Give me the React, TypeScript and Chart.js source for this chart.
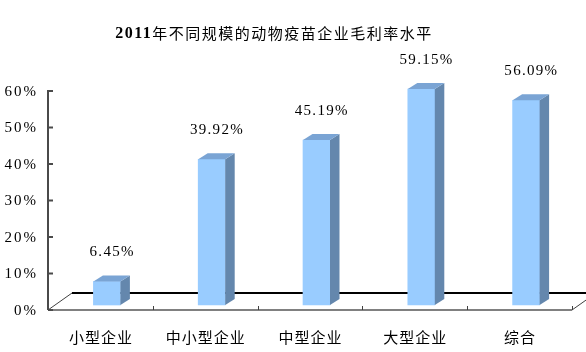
import React, { useEffect, useRef } from "react";
import { Chart, registerables } from "chart.js";

Chart.register(...registerables);

const titleYear = "2011";
const titleRest = "年不同规模的动物疫苗企业毛利率水平";
const categories = ["小型企业", "中小型企业", "中型企业", "大型企业", "综合"];
const margins = [6.45, 39.92, 45.19, 59.15, 56.09];
const yTicks = [0, 10, 20, 30, 40, 50, 60];

const OX = 6.5; // bar depth shift inside the floor
const OY = -5;
const DX = 9.5; // bar own depth
const DY = 6;
const FX = 24; // floor depth
const FY = -17;

const FRONT = "#99CCFF";
const TOP = "#7AA4D4";
const SIDE = "#6487AD";

const setLS = (ctx: any, v: string) => {
  try {
    ctx.letterSpacing = v;
  } catch (e) {}
};

const threeD = {
  id: "threeD",
  beforeDatasetsDraw(chart: any) {
    const { ctx, chartArea } = chart;
    const { left, right, bottom } = chartArea;
    ctx.save();
    // floor back line
    ctx.strokeStyle = "#000";
    ctx.lineWidth = 2;
    ctx.beginPath();
    ctx.moveTo(left + FX, bottom + FY);
    ctx.lineTo(chart.width, bottom + FY);
    ctx.stroke();
    // floor diagonals
    ctx.strokeStyle = "#404040";
    ctx.lineWidth = 1;
    ctx.beginPath();
    ctx.moveTo(left, bottom);
    ctx.lineTo(left + FX, bottom + FY);
    ctx.moveTo(right, bottom);
    ctx.lineTo(right + FX, bottom + FY);
    ctx.stroke();
    ctx.restore();
    ctx.save();
    ctx.translate(OX, OY);
  },
  afterDatasetsDraw(chart: any) {
    const { ctx, chartArea } = chart;
    const meta = chart.getDatasetMeta(0);
    meta.data.forEach((el: any) => {
      const w = el.width;
      const L = el.x - w / 2;
      const R = el.x + w / 2;
      const T = el.y;
      const B = el.base;
      ctx.fillStyle = SIDE;
      ctx.beginPath();
      ctx.moveTo(R, T);
      ctx.lineTo(R + DX, T - DY);
      ctx.lineTo(R + DX, B - DY);
      ctx.lineTo(R, B);
      ctx.closePath();
      ctx.fill();
      ctx.fillStyle = TOP;
      ctx.beginPath();
      ctx.moveTo(L, T);
      ctx.lineTo(L + DX, T - DY);
      ctx.lineTo(R + DX, T - DY);
      ctx.lineTo(R, T);
      ctx.closePath();
      ctx.fill();
    });
    ctx.restore();

    const { left, right, bottom } = chartArea;
    const xs = chart.scales.x;
    const ys = chart.scales.y;
    ctx.save();
    // front floor line
    ctx.strokeStyle = "#808080";
    ctx.lineWidth = 2;
    ctx.beginPath();
    ctx.moveTo(left, bottom);
    ctx.lineTo(right, bottom);
    ctx.stroke();
    // x ticks at category boundaries
    const cw = (right - left) / categories.length;
    ctx.strokeStyle = "#404040";
    ctx.lineWidth = 1;
    ctx.beginPath();
    for (let k = 1; k <= categories.length; k++) {
      const x = Math.round(left + k * cw) + 0.5;
      ctx.moveTo(x, bottom - 4);
      ctx.lineTo(x, bottom);
    }
    ctx.stroke();
    // y axis
    const y0 = ys.getPixelForValue(yTicks[0]);
    const y1 = ys.getPixelForValue(yTicks[yTicks.length - 1]);
    ctx.strokeStyle = "#4a4a4a";
    ctx.lineWidth = 2;
    ctx.beginPath();
    ctx.moveTo(left, y0);
    ctx.lineTo(left, y1 - 1);
    ctx.stroke();
    ctx.lineWidth = 2;
    ctx.beginPath();
    yTicks.forEach((t) => {
      const y = ys.getPixelForValue(t);
      ctx.moveTo(left, y);
      ctx.lineTo(left + 5, y);
    });
    ctx.stroke();

    // y tick labels
    ctx.fillStyle = "#000";
    ctx.font = "15px 'Liberation Serif', 'Times New Roman', serif";
    setLS(ctx, "2px");
    ctx.textAlign = "right";
    ctx.textBaseline = "middle";
    yTicks.forEach((t) => {
      ctx.fillText(t + "%", 38, ys.getPixelForValue(t) + 1);
    });

    // category labels
    ctx.font = "15px 'Noto Sans CJK SC', sans-serif";
    setLS(ctx, "1px");
    ctx.textAlign = "center";
    categories.forEach((c, i) => {
      ctx.fillText(c, xs.getPixelForValue(i) + 0.5, 337);
    });

    // data labels
    ctx.font = "15px 'Liberation Serif', 'Times New Roman', serif";
    setLS(ctx, "1.3px");
    meta.data.forEach((el: any, i: number) => {
      ctx.fillText(margins[i].toFixed(2) + "%", el.x + OX + DX / 2 + 0.5, el.y + OY - DY - 23);
    });

    // title
    setLS(ctx, "1.5px");
    ctx.textAlign = "left";
    const fYear = "bold 16px 'Liberation Serif', 'Times New Roman', serif";
    const fRest = "15px 'Noto Sans CJK SC', sans-serif";
    ctx.font = fYear;
    const wy = ctx.measureText(titleYear).width;
    ctx.font = fRest;
    const wr = ctx.measureText(titleRest).width;
    const sx = 274 - (wy + wr) / 2;
    ctx.font = fYear;
    ctx.fillText(titleYear, sx, 34);
    ctx.font = fRest;
    ctx.fillText(titleRest, sx + wy, 33);
    ctx.restore();
  },
};

export default function App() {
  const ref = useRef<HTMLCanvasElement>(null);
  useEffect(() => {
    if (!ref.current) return;
    const chart = new Chart(ref.current, {
      type: "bar",
      data: {
        labels: categories,
        datasets: [
          {
            data: margins,
            backgroundColor: FRONT,
            borderWidth: 0,
            barThickness: 27,
            clip: false as any,
          },
        ],
      },
      options: {
        responsive: false,
        animation: false,
        layout: { padding: { left: 48, right: 14, top: 91, bottom: 42 } },
        plugins: {
          legend: { display: false },
          title: { display: false },
          tooltip: { enabled: false },
        },
        scales: {
          x: {
            grid: { display: false },
            border: { display: false },
            ticks: { display: false },
            afterFit: (s: any) => {
              s.height = 0;
            },
          },
          y: {
            min: 0,
            max: 60,
            ticks: { display: false, stepSize: 10 },
            grid: { display: false },
            border: { display: false },
            afterFit: (s: any) => {
              s.width = 0;
            },
          },
        },
      },
      plugins: [threeD],
    });
    return () => chart.destroy();
  }, []);
  return (
    <canvas
      ref={ref}
      width={586}
      height={352}
      style={{ position: "fixed", left: 0, top: 0, width: 586, height: 352 }}
    />
  );
}
